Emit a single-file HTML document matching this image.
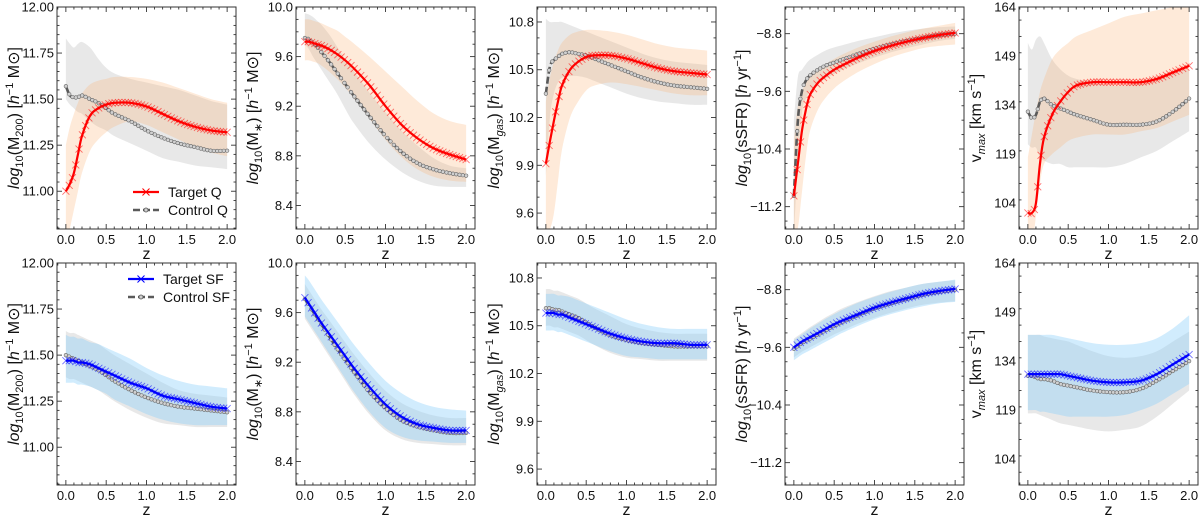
<!DOCTYPE html>
<html><head><meta charset="utf-8">
<style>
html,body{margin:0;padding:0;background:#fff;}
svg{display:block;font-family:"Liberation Sans","DejaVu Sans",sans-serif;}
</style></head>
<body>
<svg id="fig" width="1200" height="516" viewBox="0 0 1200 516" xmlns="http://www.w3.org/2000/svg"></svg>
<script>
// shared redshift grid
const zGrid = [0,0.05,0.1,0.15,0.2,0.3,0.4,0.5,0.6,0.8,1.0,1.2,1.4,1.6,1.8,2.0];
const xTicks = [0,0.5,1.0,1.5,2.0];
const xTickLabels = ["0.0","0.5","1.0","1.5","2.0"];

// ---- Top row (quenched) ----
const m200TargetQ  = [11.0,11.04,11.1,11.2,11.3,11.41,11.45,11.47,11.48,11.48,11.46,11.42,11.38,11.35,11.33,11.32];
const m200ControlQ = [11.57,11.52,11.51,11.51,11.52,11.50,11.48,11.45,11.42,11.38,11.33,11.29,11.26,11.24,11.22,11.22];
const m200TargetQLo = [10.72,10.8,10.9,11.0,11.1,11.22,11.28,11.32,11.35,11.38,11.36,11.32,11.28,11.24,11.21,11.19];
const m200TargetQHi = [11.25,11.35,11.42,11.48,11.53,11.58,11.6,11.61,11.62,11.62,11.61,11.59,11.56,11.53,11.5,11.48];
const m200ControlQLo = [11.5,11.47,11.45,11.43,11.42,11.38,11.35,11.33,11.3,11.26,11.22,11.18,11.16,11.14,11.13,11.12];
const m200ControlQHi = [11.83,11.8,11.78,11.8,11.81,11.78,11.72,11.67,11.64,11.61,11.59,11.57,11.55,11.52,11.49,11.47];

const mstarTargetQ  = [9.72,9.72,9.71,9.70,9.69,9.66,9.62,9.57,9.51,9.37,9.2,9.05,8.94,8.86,8.81,8.77];
const mstarControlQ = [9.75,9.74,9.71,9.68,9.64,9.56,9.47,9.38,9.29,9.12,8.96,8.83,8.74,8.69,8.66,8.64];
const mstarTargetQLo = [9.57,9.57,9.56,9.55,9.53,9.48,9.42,9.35,9.27,9.1,8.93,8.79,8.69,8.63,8.6,8.59];
const mstarTargetQHi = [9.9,9.9,9.89,9.88,9.87,9.84,9.81,9.76,9.71,9.6,9.48,9.36,9.24,9.14,9.08,9.05];
const mstarControlQLo = [9.7,9.66,9.6,9.55,9.5,9.4,9.3,9.18,9.07,8.9,8.77,8.67,8.6,8.56,8.55,8.55];
const mstarControlQHi = [9.95,9.94,9.92,9.89,9.86,9.78,9.68,9.58,9.49,9.31,9.15,9.0,8.88,8.78,8.72,8.7];

const mgasTargetQ  = [9.91,10.05,10.18,10.3,10.4,10.5,10.55,10.58,10.59,10.59,10.57,10.54,10.51,10.49,10.48,10.47];
const mgasControlQ = [10.35,10.52,10.56,10.58,10.6,10.61,10.6,10.59,10.57,10.53,10.49,10.45,10.42,10.4,10.39,10.38];
const mgasTargetQLo = [9.5,9.5,9.6,9.8,10.0,10.2,10.3,10.37,10.4,10.42,10.41,10.39,10.37,10.35,10.34,10.34];
const mgasTargetQHi = [10.3,10.45,10.55,10.62,10.67,10.72,10.74,10.75,10.75,10.74,10.72,10.69,10.66,10.64,10.63,10.62];
const mgasControlQLo = [9.83,10.2,10.35,10.42,10.45,10.46,10.46,10.45,10.43,10.39,10.35,10.32,10.3,10.29,10.28,10.28];
const mgasControlQHi = [10.82,10.8,10.8,10.8,10.8,10.78,10.76,10.74,10.72,10.68,10.64,10.6,10.57,10.55,10.54,10.53];

const ssfrTargetQ  = [-11.05,-10.6,-10.15,-9.85,-9.65,-9.48,-9.38,-9.3,-9.24,-9.13,-9.04,-8.97,-8.91,-8.86,-8.82,-8.79];
const ssfrControlQ = [-11.05,-10.0,-9.6,-9.45,-9.38,-9.3,-9.24,-9.2,-9.16,-9.08,-9.01,-8.95,-8.9,-8.86,-8.82,-8.8];
const ssfrTargetQLo = [-11.6,-11.5,-11.0,-10.5,-10.15,-9.85,-9.68,-9.56,-9.47,-9.33,-9.22,-9.13,-9.06,-9.0,-8.97,-8.95];
const ssfrTargetQHi = [-10.3,-9.8,-9.6,-9.48,-9.4,-9.3,-9.22,-9.15,-9.09,-8.99,-8.91,-8.84,-8.78,-8.73,-8.69,-8.65];
const ssfrControlQLo = [-11.6,-10.6,-9.9,-9.7,-9.6,-9.5,-9.42,-9.36,-9.3,-9.21,-9.13,-9.06,-9.0,-8.95,-8.9,-8.87];
const ssfrControlQHi = [-10.0,-9.4,-9.3,-9.22,-9.16,-9.09,-9.03,-8.99,-8.96,-8.9,-8.85,-8.8,-8.76,-8.73,-8.71,-8.7];

const vmaxTargetQ  = [101,101,104,116,124,131,135,138,140,141,141,141,141,142,144,146];
const vmaxControlQ = [132,130,131,135,136,134,133,132,131,129.5,128,128,128,129,132,136];
const vmaxTargetQLo = [85,90,100,110,116,119,121,123,124,125,125,125,126,127,129,131];
const vmaxTargetQHi = [118,125,132,138,142,148,151,153,155,157,159,161,162,163,164,165];
const vmaxControlQLo = [122,121,121,118,117,116,116,115,115,115,115,116,118,120,123,126];
const vmaxControlQHi = [153,151,154,155,153,148,145,143,142,141,140,140,141,142,144,145];

// ---- Bottom row (star-forming) ----
const m200TargetSF  = [11.47,11.47,11.47,11.46,11.46,11.45,11.43,11.41,11.39,11.35,11.32,11.28,11.26,11.24,11.22,11.21];
const m200ControlSF = [11.50,11.49,11.48,11.47,11.46,11.44,11.42,11.39,11.36,11.31,11.27,11.24,11.22,11.21,11.2,11.19];
const m200TargetSFLo = [11.35,11.35,11.35,11.34,11.34,11.33,11.31,11.29,11.26,11.22,11.18,11.15,11.13,11.12,11.12,11.12];
const m200TargetSFHi = [11.61,11.6,11.6,11.59,11.59,11.57,11.56,11.54,11.52,11.48,11.43,11.39,11.36,11.34,11.33,11.32];
const m200ControlSFLo = [11.38,11.37,11.37,11.36,11.35,11.33,11.31,11.28,11.25,11.2,11.16,11.13,11.12,11.11,11.11,11.11];
const m200ControlSFHi = [11.63,11.62,11.62,11.61,11.6,11.58,11.56,11.53,11.5,11.45,11.4,11.35,11.31,11.29,11.28,11.27];

const mstarTargetSF  = [9.72,9.67,9.62,9.57,9.52,9.43,9.34,9.25,9.16,9.0,8.86,8.76,8.7,8.67,8.65,8.65];
const mstarControlSF = [9.71,9.66,9.61,9.56,9.51,9.41,9.31,9.22,9.13,8.96,8.83,8.73,8.68,8.65,8.63,8.63];
const mstarTargetSFLo = [9.57,9.52,9.47,9.42,9.37,9.27,9.17,9.07,8.97,8.8,8.67,8.6,8.57,8.56,8.55,8.55];
const mstarTargetSFHi = [9.9,9.86,9.81,9.76,9.71,9.62,9.53,9.44,9.35,9.19,9.05,8.95,8.88,8.84,8.82,8.81];
const mstarControlSFLo = [9.55,9.5,9.45,9.4,9.35,9.25,9.15,9.05,8.95,8.78,8.65,8.58,8.55,8.54,8.53,8.53];
const mstarControlSFHi = [9.83,9.78,9.73,9.68,9.63,9.54,9.45,9.36,9.27,9.11,8.97,8.87,8.81,8.77,8.75,8.75];

const mgasTargetSF  = [10.58,10.58,10.58,10.57,10.57,10.55,10.53,10.51,10.49,10.45,10.42,10.4,10.39,10.39,10.38,10.38];
const mgasControlSF = [10.61,10.61,10.6,10.6,10.59,10.57,10.55,10.52,10.49,10.44,10.41,10.39,10.38,10.37,10.37,10.37];
const mgasTargetSFLo = [10.47,10.47,10.47,10.46,10.46,10.44,10.42,10.4,10.38,10.34,10.31,10.3,10.29,10.29,10.29,10.29];
const mgasTargetSFHi = [10.7,10.7,10.7,10.69,10.69,10.68,10.66,10.64,10.62,10.58,10.54,10.51,10.49,10.48,10.48,10.48];
const mgasControlSFLo = [10.5,10.5,10.49,10.49,10.48,10.46,10.44,10.41,10.38,10.33,10.3,10.29,10.28,10.28,10.28,10.28];
const mgasControlSFHi = [10.73,10.73,10.72,10.72,10.71,10.69,10.67,10.64,10.61,10.56,10.51,10.48,10.46,10.45,10.45,10.45];

const ssfrTargetSF  = [-9.6,-9.56,-9.52,-9.49,-9.46,-9.4,-9.34,-9.28,-9.23,-9.14,-9.05,-8.98,-8.92,-8.86,-8.82,-8.79];
const ssfrControlSF = [-9.62,-9.58,-9.54,-9.51,-9.48,-9.42,-9.36,-9.3,-9.25,-9.15,-9.06,-8.99,-8.93,-8.87,-8.83,-8.8];
const ssfrTargetSFLo = [-9.78,-9.74,-9.7,-9.67,-9.64,-9.58,-9.52,-9.46,-9.4,-9.3,-9.21,-9.14,-9.08,-9.03,-8.99,-8.97];
const ssfrTargetSFHi = [-9.5,-9.46,-9.42,-9.38,-9.34,-9.27,-9.2,-9.14,-9.08,-8.98,-8.9,-8.83,-8.77,-8.72,-8.69,-8.66];
const ssfrControlSFLo = [-9.74,-9.7,-9.66,-9.63,-9.6,-9.54,-9.48,-9.42,-9.37,-9.27,-9.19,-9.12,-9.06,-9.01,-8.98,-8.96];
const ssfrControlSFHi = [-9.48,-9.44,-9.4,-9.36,-9.32,-9.25,-9.18,-9.12,-9.06,-8.97,-8.89,-8.82,-8.77,-8.72,-8.69,-8.67];

const vmaxTargetSF  = [130,130,130,130,130,130,130,129.5,129,128,127.5,127.5,128,130,133,136];
const vmaxControlSF = [129.5,129.5,129,128.5,128.5,128,127,126.5,126,125,124.5,124.5,125.5,128,131,134];
const vmaxTargetSFLo = [119,119,119,118.5,118.5,118,117.5,117,117,117,117,117.5,119,121,124,127];
const vmaxTargetSFHi = [142,142,142,142,142,142,141.5,141,140.5,139.5,139,139,139.5,141,144,148];
const vmaxControlSFLo = [118,118,118,117.5,117,116,115,114.5,114,113,112.5,113,114,117,121,125];
const vmaxControlSFHi = [142,142,142,142,141.5,141,140.5,140,139,137,135.5,135,135.5,137,140,143];

// y-axis ticks per quantity
const m200Ticks = [11.00,11.25,11.50,11.75,12.00];
const m200TickLabels = ["11.00","11.25","11.50","11.75","12.00"];
const mstarTicks = [8.4,8.8,9.2,9.6,10.0];
const mstarTickLabels = ["8.4","8.8","9.2","9.6","10.0"];
const mgasTicks = [9.6,9.9,10.2,10.5,10.8];
const mgasTickLabels = ["9.6","9.9","10.2","10.5","10.8"];
const ssfrTicks = [-11.2,-10.4,-9.6,-8.8];
const ssfrTickLabels = ["\u221211.2","\u221210.4","\u22129.6","\u22128.8"];
const vmaxTicks = [104,119,134,149,164];
const vmaxTickLabels = ["104","119","134","149","164"];

const NS = "http://www.w3.org/2000/svg";
const svg = document.getElementById("fig");
function mk(tag, attrs, parent){
  const e = document.createElementNS(NS, tag);
  for (const k in attrs) e.setAttribute(k, attrs[k]);
  (parent||svg).appendChild(e);
  return e;
}
function smoothPath(pts, move){
  let d = (move===false?"L":"M")+pts[0][0].toFixed(2)+","+pts[0][1].toFixed(2);
  for (let i=0;i<pts.length-1;i++){
    const p0=pts[Math.max(0,i-1)], p1=pts[i], p2=pts[i+1], p3=pts[Math.min(pts.length-1,i+2)];
    const c1=[p1[0]+(p2[0]-p0[0])/6, p1[1]+(p2[1]-p0[1])/6];
    const c2=[p2[0]-(p3[0]-p1[0])/6, p2[1]-(p3[1]-p1[1])/6];
    d += " C"+c1[0].toFixed(2)+","+c1[1].toFixed(2)+" "+c2[0].toFixed(2)+","+c2[1].toFixed(2)+" "+p2[0].toFixed(2)+","+p2[1].toFixed(2);
  }
  return d;
}
// marker positions sampled along the rendered (data-driven) curve at even x steps
function samplesAlong(pathEl, x0, x1, n){
  const L = pathEl.getTotalLength();
  const pts = [];
  const N = 600;
  const all = [];
  for (let i=0;i<=N;i++){ const p = pathEl.getPointAtLength(L*i/N); all.push([p.x,p.y]); }
  let j = 0;
  for (let k=0;k<n;k++){
    const tx = x0 + (x1-x0)*k/(n-1);
    while (j < all.length-2 && all[j+1][0] < tx) j++;
    pts.push(all[Math.min(j+1, all.length-1)][0] < tx ? all[all.length-1] : (Math.abs(all[j][0]-tx) < Math.abs(all[j+1][0]-tx) ? all[j] : all[j+1]));
  }
  return pts;
}

const panelLefts = [57,296,537,785,1019];
const rowTops = [7,263];
const PW = 179, PH = 222;
const xMin = -0.11, xMax = 2.11;

const quantities = [
  {key:"m200", lim:[10.795,12.0], ticks:m200Ticks, labels:m200TickLabels, minor:0.05,
   label:[["i","log"],["sub","10"],["n","(M"],["sub","200"],["n",") ["],["i","h"],["sup","\u22121"],["n"," M\u2299]"]]},
  {key:"mstar", lim:[8.21,10.0], ticks:mstarTicks, labels:mstarTickLabels, minor:0.1,
   label:[["i","log"],["sub","10"],["n","(M"],["sub","\u2217"],["n",") ["],["i","h"],["sup","\u22121"],["n"," M\u2299]"]]},
  {key:"mgas", lim:[9.5,10.894], ticks:mgasTicks, labels:mgasTickLabels, minor:0.1,
   label:[["i","log"],["sub","10"],["n","(M"],["subi","gas"],["n",") ["],["i","h"],["sup","\u22121"],["n"," M\u2299]"]]},
  {key:"ssfr", lim:[-11.51,-8.43], ticks:ssfrTicks, labels:ssfrTickLabels, minor:0.2,
   label:[["i","log"],["sub","10"],["n","(sSFR) ["],["i","h"],["n"," yr"],["sup","\u22121"],["n","]"]]},
  {key:"vmax", lim:[96.1,164.0], ticks:vmaxTicks, labels:vmaxTickLabels, minor:5,
   label:[["n","v"],["subi","max"],["n"," [km s"],["sup","\u22121"],["n","]"]]}
];
const rowData = [
  {tag:"Q", tgt:[m200TargetQ,mstarTargetQ,mgasTargetQ,ssfrTargetQ,vmaxTargetQ],
   ctl:[m200ControlQ,mstarControlQ,mgasControlQ,ssfrControlQ,vmaxControlQ],
   tLo:[m200TargetQLo,mstarTargetQLo,mgasTargetQLo,ssfrTargetQLo,vmaxTargetQLo],
   tHi:[m200TargetQHi,mstarTargetQHi,mgasTargetQHi,ssfrTargetQHi,vmaxTargetQHi],
   cLo:[m200ControlQLo,mstarControlQLo,mgasControlQLo,ssfrControlQLo,vmaxControlQLo],
   cHi:[m200ControlQHi,mstarControlQHi,mgasControlQHi,ssfrControlQHi,vmaxControlQHi],
   color:"#ff0000", band:"rgba(250,175,110,0.26)"},
  {tag:"SF", tgt:[m200TargetSF,mstarTargetSF,mgasTargetSF,ssfrTargetSF,vmaxTargetSF],
   ctl:[m200ControlSF,mstarControlSF,mgasControlSF,ssfrControlSF,vmaxControlSF],
   tLo:[m200TargetSFLo,mstarTargetSFLo,mgasTargetSFLo,ssfrTargetSFLo,vmaxTargetSFLo],
   tHi:[m200TargetSFHi,mstarTargetSFHi,mgasTargetSFHi,ssfrTargetSFHi,vmaxTargetSFHi],
   cLo:[m200ControlSFLo,mstarControlSFLo,mgasControlSFLo,ssfrControlSFLo,vmaxControlSFLo],
   cHi:[m200ControlSFHi,mstarControlSFHi,mgasControlSFHi,ssfrControlSFHi,vmaxControlSFHi],
   color:"#0000ff", band:"rgba(135,206,250,0.38)"}
];

const defs = mk("defs",{});
rowData.forEach((row, r) => {
  quantities.forEach((q, c) => {
    const L = panelLefts[c], T = rowTops[r];
    const X = v => L + (v - xMin)/(xMax - xMin)*PW;
    const Y = v => T + PH - (v - q.lim[0])/(q.lim[1]-q.lim[0])*PH;
    const g = mk("g",{});
    
    
    const cid = "clip"+r+c;
    const cp = mk("clipPath",{id:cid}, defs);
    mk("rect",{x:L,y:T,width:PW,height:PH}, cp);
    const plot = mk("g",{"clip-path":"url(#"+cid+")"}, g);

    const band = (lo, hi, fill, name) => {
      const up = zGrid.map((z,i)=>[X(z),Y(hi[i])]);
      const dn = zGrid.map((z,i)=>[X(z),Y(lo[i])]).reverse();
      const p = mk("path",{d:smoothPath(up)+" "+smoothPath(dn,false)+" Z", fill:fill, stroke:"none"}, plot);
      
      
    };
    band(row.cLo[c], row.cHi[c], "rgba(150,150,150,0.22)", "control-band");
    band(row.tLo[c], row.tHi[c], row.band, "target-band");

    const x0 = X(zGrid[0]), x1 = X(zGrid[zGrid.length-1]);
    // control line
    const cPts = zGrid.map((z,i)=>[X(z),Y(row.ctl[c][i])]);
    const cl = mk("path",{d:smoothPath(cPts), fill:"none", stroke:"#5a5a5a", "stroke-width":2.6, "stroke-dasharray":"7,3"}, plot);
    
    
    samplesAlong(cl, x0, x1, 50).forEach(p=>{
      const m = mk("circle",{cx:p[0],cy:p[1],r:1.8,fill:"#d0d0d0",stroke:"#666","stroke-width":0.6}, plot);
      
      
    });
    // target line
    const tPts = zGrid.map((z,i)=>[X(z),Y(row.tgt[c][i])]);
    const tl = mk("path",{d:smoothPath(tPts), fill:"none", stroke:row.color, "stroke-width":2.2}, plot);
    
    
    samplesAlong(tl, x0, x1, 50).forEach(p=>{
      const m = mk("path",{d:`M${p[0]-3.5},${p[1]-3.5}L${p[0]+3.5},${p[1]+3.5}M${p[0]-3.5},${p[1]+3.5}L${p[0]+3.5},${p[1]-3.5}`, stroke:row.color, "stroke-width":0.9, opacity:0.55}, plot);
      
      
    });

    const fr = mk("rect",{x:L,y:T,width:PW,height:PH,fill:"none",stroke:"#333","stroke-width":1}, g);
    
    

    for (let k=0;k<=21;k++){
      const v = -0.1 + k*0.1; const x = X(v);
      if (x < L || x > L+PW) continue;
      const major = Math.abs(v*2 - Math.round(v*2)) < 1e-6;
      const len = major?5:2.5;
      mk("line",{x1:x,x2:x,y1:T+PH,y2:T+PH-len,stroke:"#333","stroke-width":0.9}, g);
      mk("line",{x1:x,x2:x,y1:T,y2:T+len,stroke:"#333","stroke-width":0.9}, g);
    }
    xTicks.forEach((v,i)=>{
      const t = mk("text",{x:X(v),y:T+PH+15,"font-size":13,"text-anchor":"middle",fill:"#111"}, g);
      t.textContent = xTickLabels[i];
      
      
    });
    const xl = mk("text",{x:L+PW/2,y:T+PH+30,"font-size":16,"text-anchor":"middle",fill:"#111"}, g);
    xl.textContent = "z";
    
    

    const start = Math.ceil(q.lim[0]/q.minor - 1e-6);
    const end = Math.floor(q.lim[1]/q.minor + 1e-6);
    for (let k=start;k<=end;k++){
      const v = k*q.minor; const y = Y(v);
      const major = q.ticks.some(t=>Math.abs(t-v)<1e-6);
      const len = major?5:2.5;
      mk("line",{x1:L,x2:L+len,y1:y,y2:y,stroke:"#333","stroke-width":0.9}, g);
      mk("line",{x1:L+PW,x2:L+PW-len,y1:y,y2:y,stroke:"#333","stroke-width":0.9}, g);
    }
    q.ticks.forEach((v,i)=>{
      const t = mk("text",{x:L-3,y:Y(v)+4.5,"font-size":13,"text-anchor":"end",fill:"#111"}, g);
      t.textContent = q.labels[i];
      
      
    });
    const yl = mk("text",{transform:`translate(${L-38},${T+PH/2}) rotate(-90)`,"font-size":16,"text-anchor":"middle",fill:"#111"}, g);
    
    
    let shift = 0;
    q.label.forEach(([kind, txt])=>{
      const ts = mk("tspan",{}, yl);
      ts.textContent = txt;
      let dy = 0;
      if (kind==="i") ts.setAttribute("font-style","italic");
      if (kind==="sub"||kind==="subi"){ dy = 4; ts.setAttribute("font-size",11); if(kind==="subi") ts.setAttribute("font-style","italic"); }
      if (kind==="sup"){ dy = -6; ts.setAttribute("font-size",11); }
      ts.setAttribute("dy", dy - shift);
      shift = dy;
    });
  });
});

function legend(x, y, color, tag){
  const g = mk("g",{});
  
  
  mk("line",{x1:x,x2:x+26,y1:y,y2:y,stroke:color,"stroke-width":2.2}, g);
  mk("path",{d:`M${x+9.5},${y-3.5}l7,7m-7,0l7,-7`,stroke:color,"stroke-width":1}, g);
  const t1 = mk("text",{x:x+35,y:y+5,"font-size":14,fill:"#111"}, g);
  t1.textContent = "Target "+tag;
  
  
  mk("line",{x1:x,x2:x+26,y1:y+18,y2:y+18,stroke:"#5a5a5a","stroke-width":2.6,"stroke-dasharray":"7,3"}, g);
  mk("circle",{cx:x+13,cy:y+18,r:2,fill:"#cfcfcf",stroke:"#555","stroke-width":0.8}, g);
  const t2 = mk("text",{x:x+35,y:y+23,"font-size":14,fill:"#111"}, g);
  t2.textContent = "Control "+tag;
  
  
}
legend(133, 192, "#ff0000", "Q");
legend(128, 279, "#0000ff", "SF");
</script>
</body></html>
